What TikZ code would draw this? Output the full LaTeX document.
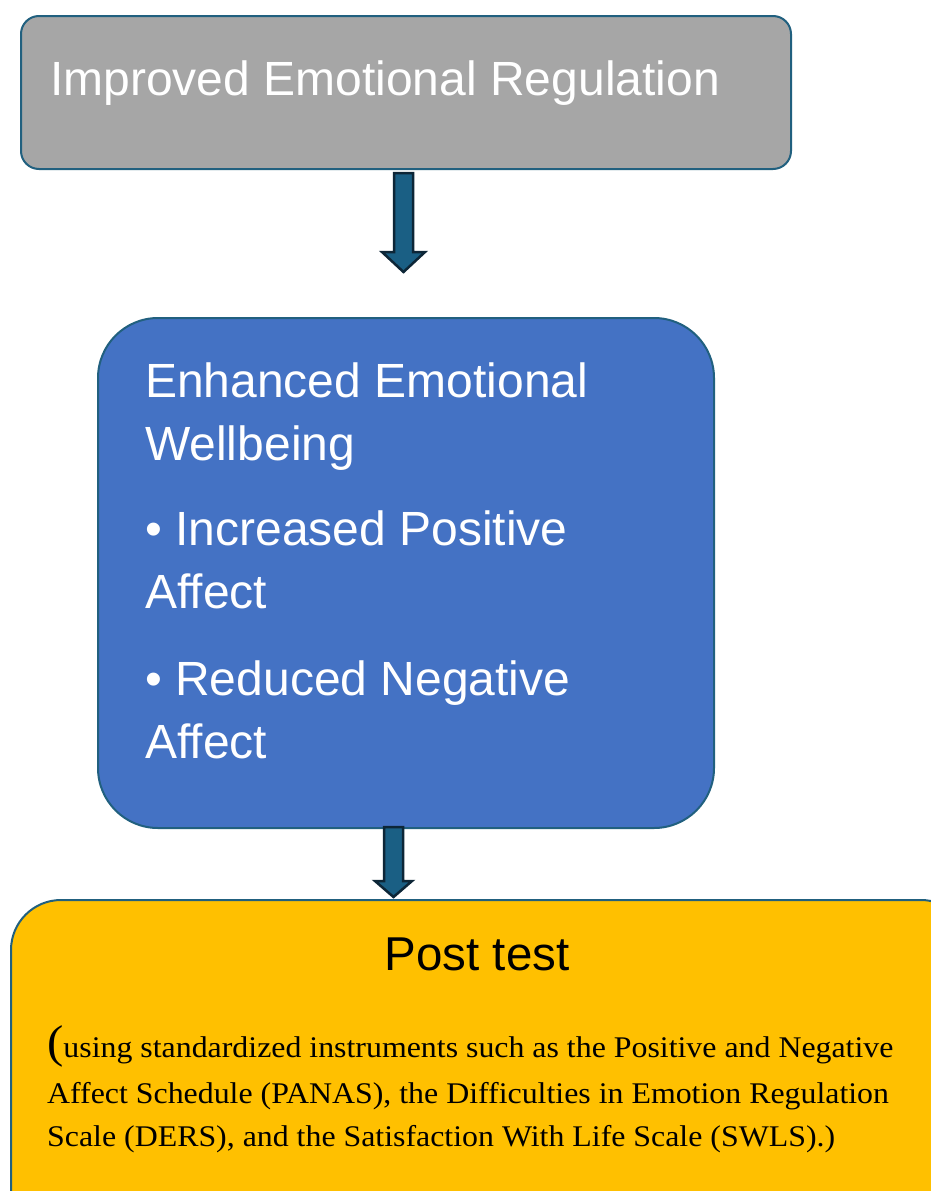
\documentclass[tikz,border=0pt]{standalone}
\usepackage{fontspec}
\setmainfont{Liberation Serif}
\setsansfont{Liberation Sans}
\newfontfamily\bodyfont{Liberation Serif}[FakeStretch=1.062]
\usetikzlibrary{calc}
\definecolor{bordc}{HTML}{21607F}
\definecolor{grayc}{HTML}{A6A6A6}
\definecolor{bluec}{HTML}{4472C4}
\definecolor{goldc}{HTML}{FFC000}
\definecolor{arrfill}{HTML}{1A5F84}
\definecolor{arrdraw}{HTML}{0D2637}
\newcommand{\blockarr}[5]{%
  \draw[arrowsty] ($(#1)+(-#3,0)$) -- ($(#2)+(-#3,-#5)$) -- ($(#2)+(-#4,-#5)$) -- (#2)
    -- ($(#2)+(#4,-#5)$) -- ($(#2)+(#3,-#5)$) -- ($(#1)+(#3,0)$) -- cycle;}
\begin{document}
\begin{tikzpicture}[x=1pt,y=-1pt,
  box/.style={draw=bordc, line width=2pt, rounded corners=#1, anchor=north west, inner sep=0pt},
  arrowsty/.style={fill=arrfill, draw=arrdraw, line width=2.5pt, line join=miter},
  headtext/.style={anchor=base west, inner sep=0pt, text=white, font=\sffamily\fontsize{48}{55}\selectfont},
  bodytext/.style={anchor=base west, inner sep=0pt, font=\bodyfont\fontsize{30}{36}\selectfont}]
\clip (0,0) rectangle (931,1191);
\fill[white] (0,0) rectangle (931,1191);
% top box
\node[box=18pt, fill=grayc, minimum width=770pt, minimum height=153pt] (top) at (20,15) {};
\node[headtext] (ttop) at (50,95) {Improved Emotional Regulation};
% middle box
\node[box=60pt, fill=bluec, minimum width=616pt, minimum height=510pt] (mid) at (97,317) {};
\node[headtext] (m1) at (145,397) {Enhanced Emotional};
\node[headtext] (m2) at (145,460) {Wellbeing};
\node[headtext] (m3) at (145,545) {\textbullet\ Increased Positive};
\node[headtext] (m4) at (145,608) {Affect};
\node[headtext] (m5) at (145,695) {\textbullet\ Reduced Negative};
\node[headtext] (m6) at (145,758) {Affect};
% bottom box
\node[box=50pt, fill=goldc, minimum width=960pt, minimum height=340pt] (bot) at (10,899) {};
\node[anchor=base, inner sep=0pt, font=\sffamily\fontsize{47.5}{55}\selectfont] (ptitle) at (477,970) {Post test};
\node[bodytext] (b1) at (47,1057) {{\fontsize{46}{46}\selectfont(}using standardized instruments such as the Positive and Negative};
\node[bodytext] (b2) at (47,1103) {Affect Schedule (PANAS), the Difficulties in Emotion Regulation};
\node[bodytext] (b3) at (47,1146) {Scale (DERS), and the Satisfaction With Life Scale (SWLS).)};
% arrows
\coordinate (a1s) at (403.5,173);
\coordinate (a1e) at (403.5,272);
\coordinate (a2s) at (393.5,827);
\coordinate (a2e) at (393.5,897);
\blockarr{a1s}{a1e}{9.5}{21.5}{20}
\blockarr{a2s}{a2e}{9.5}{18.5}{16}
\end{tikzpicture}
\end{document}
